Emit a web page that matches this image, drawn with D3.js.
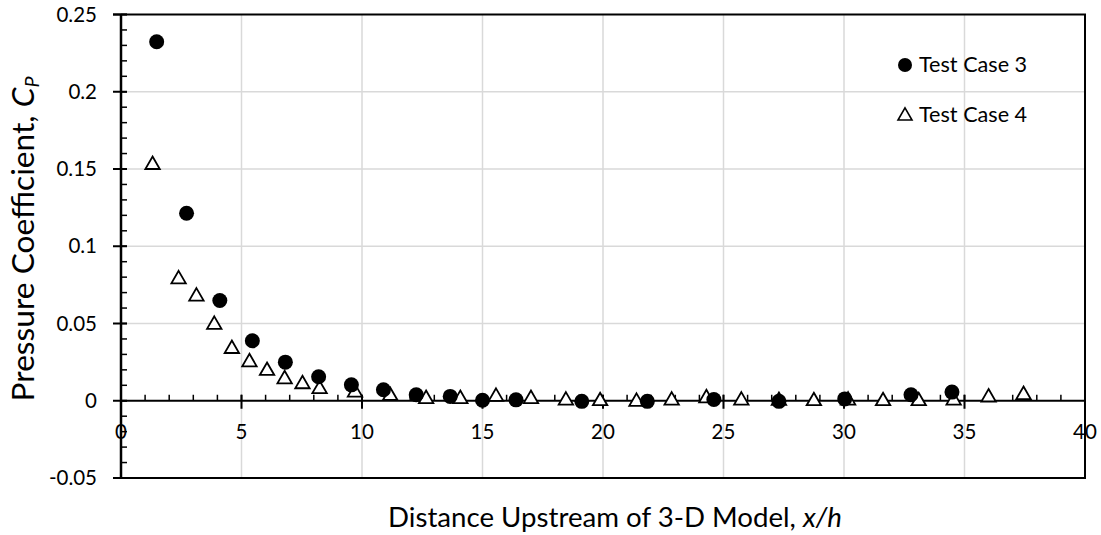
<!DOCTYPE html>
<html><head><meta charset="utf-8">
<script src="https://cdn.jsdelivr.net/npm/d3@7/dist/d3.min.js"></script>
<style>body{margin:0;background:#fff}svg{display:block}text{font-family:Lato,"Open Sans",sans-serif;fill:#000}</style>
</head><body><svg id="c" width="1101" height="535"></svg>
<script>
const case3X = [1.48,2.72,4.10,5.45,6.82,8.20,9.56,10.89,12.25,13.66,15.0,16.39,19.12,21.84,24.6,27.3,30.03,32.78,34.48];
const case3Y = [0.2324,0.1214,0.0649,0.0388,0.0250,0.0155,0.0103,0.0071,0.0039,0.0028,0.0003,0.0006,-0.0004,-0.0004,0.0008,-0.0004,0.0012,0.0039,0.0056];
const case4X = [1.31,2.39,3.13,3.87,4.60,5.33,6.06,6.79,7.53,8.24,9.71,11.17,12.66,14.08,15.56,17.01,18.46,19.88,21.39,22.85,24.29,25.74,27.3,28.75,30.17,31.62,33.1,34.55,36.0,37.45];
const case4Y = [0.1527,0.0787,0.0675,0.0492,0.0336,0.025,0.0194,0.014,0.0108,0.0076,0.0054,0.0032,0.0012,0.0012,0.0026,0.0012,0.0002,-0.0002,-0.0006,0.0002,0.0017,0.0002,0.0,-0.0002,0.0002,-0.0002,-0.0002,0.0002,0.0022,0.0038];
const xTicks = [0,5,10,15,20,25,30,35,40];
const yTicks = [-0.05,0,0.05,0.1,0.15,0.2,0.25];
const yTickLabels = ["-0.05","0","0.05","0.1","0.15","0.2","0.25"];
const seriesNames = ["Test Case 3","Test Case 4"];

const svg = d3.select("#c");
const L=121,R=1085,T=14.5,B=478;
const x = d3.scaleLinear().domain([0,40]).range([L,R]);
const y = d3.scaleLinear().domain([-0.05,0.25]).range([B,T]);
const grid = "#d9d9d9";

// gridlines
svg.append("g").selectAll("line").data(xTicks.slice(1,-1)).join("line")
  .attr("x1",d=>x(d)).attr("x2",d=>x(d)).attr("y1",T).attr("y2",B)
  .attr("stroke",grid).attr("stroke-width",1.5);
svg.append("g").selectAll("line").data(yTicks.filter(v=>v!==0&&v!==-0.05&&v!==0.25)).join("line")
  .attr("x1",L).attr("x2",R).attr("y1",d=>y(d)).attr("y2",d=>y(d))
  .attr("stroke",grid).attr("stroke-width",1.5);

// frame: top, bottom, right
const frame = svg.append("g").attr("stroke","#000").attr("stroke-width",2);
frame.append("line").attr("x1",L-8).attr("x2",R+1).attr("y1",T).attr("y2",T);
frame.append("line").attr("x1",L-8).attr("x2",R+1).attr("y1",B).attr("y2",B);
frame.append("line").attr("x1",R).attr("x2",R).attr("y1",T).attr("y2",B);

// y axis
const yMinor = d3.range(-0.05,0.2501,0.01).map(v=>+v.toFixed(2));
svg.append("g").selectAll("line").data(yMinor).join("line")
  .attr("x1",L).attr("x2",L+6).attr("y1",d=>y(d)).attr("y2",d=>y(d))
  .attr("stroke","#000").attr("stroke-width",1.5);
svg.append("g").selectAll("line").data(yTicks).join("line")
  .attr("x1",L-8).attr("x2",L+6).attr("y1",d=>y(d)).attr("y2",d=>y(d))
  .attr("stroke","#000").attr("stroke-width",2);
svg.append("line").attr("x1",L).attr("x2",L).attr("y1",T).attr("y2",B).attr("stroke","#000").attr("stroke-width",2.5);
svg.append("g").selectAll("text").data(yTicks).join("text")
  .attr("x",L-24).attr("y",d=>y(d)).attr("dy","0.35em").attr("text-anchor","end")
  .attr("font-size",20.5).text((d,i)=>yTickLabels[i]);

// x axis at y=0
const y0 = y(0);
svg.append("g").selectAll("line").data(d3.range(0,41,1)).join("line")
  .attr("x1",d=>x(d)).attr("x2",d=>x(d)).attr("y1",y0-6).attr("y2",y0)
  .attr("stroke","#000").attr("stroke-width",1.5);
svg.append("g").selectAll("line").data(xTicks).join("line")
  .attr("x1",d=>x(d)).attr("x2",d=>x(d)).attr("y1",y0-6).attr("y2",y0+8)
  .attr("stroke","#000").attr("stroke-width",2);
svg.append("line").attr("x1",L).attr("x2",R).attr("y1",y0).attr("y2",y0).attr("stroke","#000").attr("stroke-width",2);
svg.append("g").selectAll("text").data(xTicks).join("text")
  .attr("x",d=>x(d)).attr("y",y0+31).attr("dy","0.35em").attr("text-anchor","middle")
  .attr("font-size",20.5).text(d=>d);

// series
const tri = d3.symbol().type(d3.symbolTriangle).size(90);
svg.append("g").selectAll("path").data(case4X).join("path")
  .attr("d",tri).attr("transform",(d,i)=>`translate(${x(d)},${y(case4Y[i])})`)
  .attr("fill","#fff").attr("stroke","#000").attr("stroke-width",1.8);
svg.append("g").selectAll("circle").data(case3X).join("circle")
  .attr("cx",d=>x(d)).attr("cy",(d,i)=>y(case3Y[i])).attr("r",7.5).attr("fill","#000");

// legend
const lg = svg.append("g");
lg.append("circle").attr("cx",905).attr("cy",65).attr("r",7).attr("fill","#000");
lg.append("text").attr("x",919).attr("y",72).attr("font-size",21.6).text(seriesNames[0]);
lg.append("path").attr("d",d3.symbol().type(d3.symbolTriangle).size(85)).attr("transform","translate(905,116)")
  .attr("fill","#fff").attr("stroke","#000").attr("stroke-width",1.6);
lg.append("text").attr("x",919).attr("y",122).attr("font-size",21.6).text(seriesNames[1]);

// axis titles (font size fitted to the reference title lengths)
function fit(sel, base, target){
  const len = sel.node().getComputedTextLength();
  if (len > 0) sel.attr("font-size", base * target / len);
}
const xt = svg.append("text").attr("x",615).attr("y",527).attr("text-anchor","middle").attr("font-size",27.6);
xt.append("tspan").text("Distance Upstream of 3-D Model, ");
xt.append("tspan").attr("font-style","italic").text("x/h");
fit(xt, 27.6, 454);
const yt = svg.append("text").attr("transform","translate(34,239) rotate(-90)").attr("text-anchor","middle").attr("font-size",27.6);
yt.append("tspan").text("Pressure Coefficient, ");
yt.append("tspan").attr("font-style","italic").text("C");
yt.append("tspan").attr("font-style","italic").attr("font-size","0.62em").attr("dy",5).text("P");
fit(yt, 27.6, 325);
</script></body></html>
